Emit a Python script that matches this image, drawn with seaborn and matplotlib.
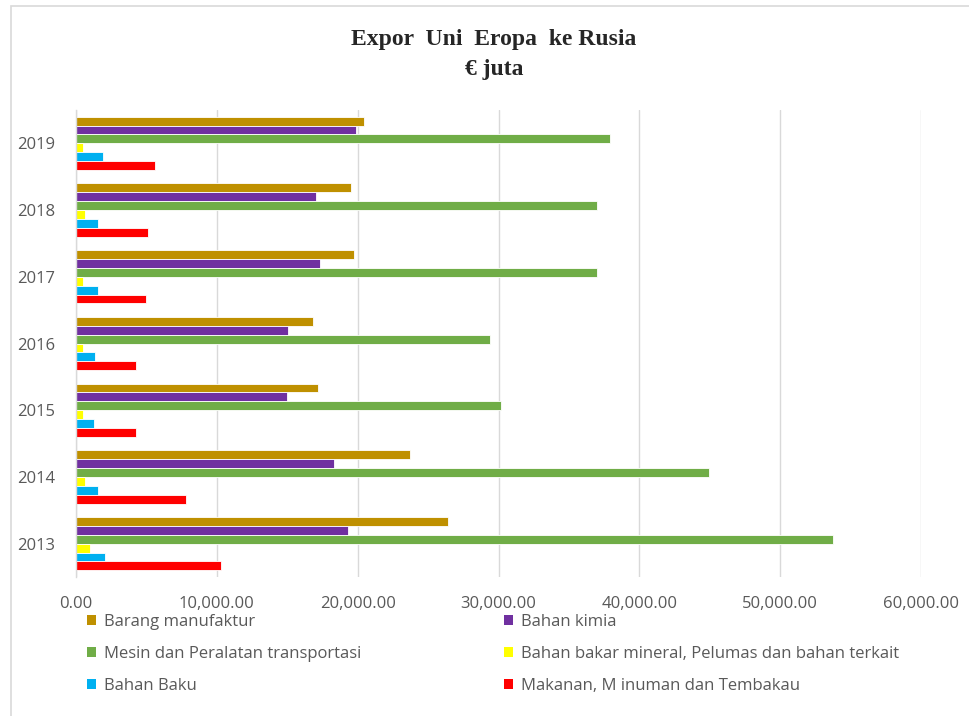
import matplotlib
matplotlib.use("Agg")
import matplotlib.pyplot as plt
from matplotlib.patches import Patch, Rectangle
from matplotlib.ticker import FuncFormatter, MultipleLocator, FixedLocator
import seaborn as sns
import pandas as pd

# EU exports to Russia by product group, million EUR
years = ["2019", "2018", "2017", "2016", "2015", "2014", "2013"]
series_names = [
    "Barang manufaktur",
    "Bahan kimia",
    "Mesin dan Peralatan transportasi",
    "Bahan bakar mineral, Pelumas dan bahan terkait",
    "Bahan Baku",
    "Makanan, Minuman dan Tembakau",
]
barang_manufaktur = [20460, 19510, 19760, 16830, 17180, 23740, 26410]
bahan_kimia = [19890, 17070, 17290, 15070, 14960, 18350, 19290]
mesin_transportasi = [37940, 36990, 36990, 29380, 30190, 44980, 53760]
bahan_bakar = [520, 650, 520, 520, 520, 650, 1010]
bahan_baku = [1900, 1570, 1570, 1360, 1250, 1550, 2060]
makanan = [5580, 5100, 4990, 4280, 4280, 7800, 10300]

colors = ["#BF9000", "#7030A0", "#70AD47", "#FFFF00", "#00B0F0", "#FF0000"]
legend_labels = [
    "Barang manufaktur",
    "Bahan kimia",
    "Mesin dan Peralatan transportasi",
    "Bahan bakar mineral, Pelumas dan bahan terkait",
    "Bahan Baku",
    "Makanan, M inuman dan Tembakau",
]

all_values = [barang_manufaktur, bahan_kimia, mesin_transportasi,
              bahan_bakar, bahan_baku, makanan]
rows = []
for name, vals in zip(series_names, all_values):
    for y, v in zip(years, vals):
        rows.append({"Tahun": y, "Kelompok": name, "Nilai": v})
df = pd.DataFrame(rows)

sns.set_theme(style="white")
plt.rcParams["font.family"] = ["Open Sans", "DejaVu Sans"]

W, H = 969, 716
fig = plt.figure(figsize=(W / 100, H / 100), dpi=100)
ax = fig.add_axes([76 / W, 1 - 577 / H, (921 - 76) / W, (577 - 110) / H])

sns.barplot(
    data=df, x="Nilai", y="Tahun", hue="Kelompok",
    order=years, hue_order=series_names, palette=colors, saturation=1,
    orient="h", width=0.8, dodge=True, ax=ax,
    edgecolor="white", linewidth=0.6, legend=False,
)

grey_txt = "#595959"
grid_c = "#D9D9D9"

ax.set_xlim(0, 60000)
ax.set_ylim(len(years) - 0.5, -0.5)
ax.xaxis.set_major_locator(MultipleLocator(10000))
ax.xaxis.set_major_formatter(FuncFormatter(lambda v, p: f"{v:,.2f}"))
ax.grid(axis="x", color=grid_c, linewidth=1.0)
ax.set_axisbelow(True)
ax.set_xlabel("")
ax.set_ylabel("")

for s in ["top", "right", "bottom"]:
    ax.spines[s].set_visible(False)
ax.spines["left"].set_color(grid_c)
ax.spines["left"].set_linewidth(1.0)

ax.tick_params(axis="x", length=0, pad=14, labelsize=12, labelcolor=grey_txt)
ax.tick_params(axis="y", which="major", length=0, pad=15, labelsize=12, labelcolor=grey_txt)
ax.yaxis.set_minor_locator(FixedLocator([i - 0.5 for i in range(len(years) + 1)]))
ax.tick_params(axis="y", which="minor", length=6, width=1.0, color=grid_c)

title_font = ["Liberation Serif", "DejaVu Serif"]
fig.text(494 / W, 1 - 40 / H, "Expor  Uni  Eropa  ke Rusia", ha="center", va="center",
         fontsize=17, fontweight="bold", family=title_font)
fig.text(494 / W, 1 - 70 / H, "€ juta", ha="center", va="center",
         fontsize=17, fontweight="bold", family=title_font)

def make_legend(idx, x_px):
    handles = [Patch(facecolor=colors[i], edgecolor="none") for i in idx]
    labels = [legend_labels[i] for i in idx]
    leg = fig.legend(handles, labels, loc="upper left",
                     bbox_to_anchor=(x_px / W, 1 - 614 / H),
                     frameon=False, fontsize=12, labelcolor=grey_txt,
                     handlelength=0.55, handleheight=0.55, handletextpad=0.45,
                     labelspacing=0.95, borderpad=0, borderaxespad=0)
    return leg

make_legend([0, 2, 4], 87)
make_legend([1, 3, 5], 504)

fig.add_artist(Rectangle((11 / W, -0.1), 2.0, 1.1 - 6 / H, transform=fig.transFigure,
                         fill=False, edgecolor=grid_c, linewidth=1.2))

fig.savefig("out.png", dpi=100, facecolor="white")
